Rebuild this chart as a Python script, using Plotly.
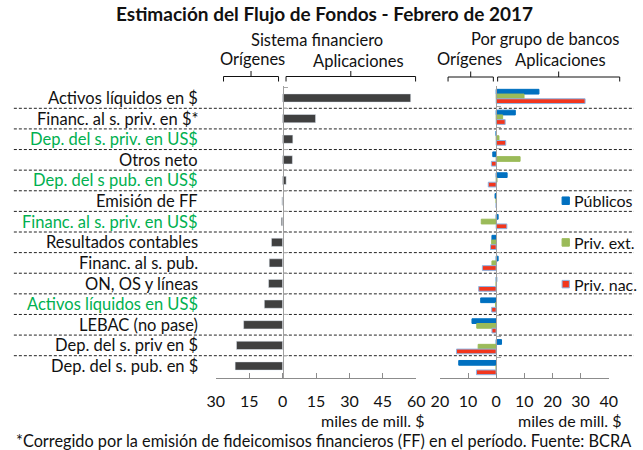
import plotly.graph_objects as go

W, H = 643, 450

categories = [
    "Activos líquidos en $",
    "Financ. al s. priv. en $*",
    "Dep. del s. priv. en US$",
    "Otros neto",
    "Dep. del s pub. en US$",
    "Emisión de FF",
    "Financ. al s. priv. en US$",
    "Resultados contables",
    "Financ. al s. pub.",
    "ON, OS y líneas",
    "Activos líquidos en US$",
    "LEBAC (no pase)",
    "Dep. del s. priv en $",
    "Dep. del s. pub. en $",
]
green_label = [False, False, True, False, True, False, True,
               False, False, False, True, False, False, False]

sistema = [57.5, 14.8, 4.6, 4.4, 1.6, -0.3, -0.6, -5.0, -6.0, -6.3, -8.2, -17.5, -20.7, -21.3]
publicos = [15.2, 6.8, 0.0, -1.2, 3.9, -0.4, 0.7, -1.5, 0.7, 0.2, -5.5, -8.6, 1.9, -13.3]
priv_ext = [9.9, 2.3, 1.0, 8.5, 0.3, 0.0, -5.3, -1.6, -1.5, 0.0, -0.2, -6.9, -6.4, 0.0]
priv_nac = [31.6, 3.2, 3.4, -1.7, -2.8, 0.0, 3.8, -2.0, -4.9, -6.2, -1.6, -1.5, -14.1, -7.0]

series_names = ["Públicos", "Priv. ext.", "Priv. nac."]
series_colors = ["#0070C0", "#9BBB59", "#F2361D"]
series_outline = ["#0070C0", "#9BBB59", "#8EB4E3"]

left_ticks = [-30, -15, 0, 15, 30, 45, 60]
left_ticktext = ["30", "15", "0", "15", "30", "45", "60"]
right_ticks = [-20, -10, 0, 10, 20, 30, 40]
right_ticktext = ["20", "10", "0", "10", "20", "30", "40"]

FONT = "Lato, 'Open Sans', sans-serif"
LABEL_GREEN = "#00B050"
AXIS_GRAY = "#8c8c8c"


def px(x):
    return x / W


def py(y):
    return 1 - y / H


fig = go.Figure()
fig.add_trace(go.Bar(
    y=categories, x=sistema, orientation="h", xaxis="x", yaxis="y",
    marker=dict(color="#404040"), width=0.4, showlegend=False,
))
for name, vals, col, oc in zip(series_names, [publicos, priv_ext, priv_nac],
                               series_colors, series_outline):
    fig.add_trace(go.Bar(
        y=categories, x=vals, orientation="h", xaxis="x2", yaxis="y2", name=name,
        marker=dict(color=col, line=dict(color=oc, width=1)), showlegend=False,
    ))

ydom = [py(378), py(86)]
common_x = dict(showline=True, linecolor=AXIS_GRAY, linewidth=1, ticks="inside",
                ticklen=5, tickcolor=AXIS_GRAY, showgrid=False, zeroline=False,
                tickfont=dict(size=16, color="#111"), ticklabelstandoff=9)
common_y = dict(domain=ydom, type="category", categoryarray=categories,
                categoryorder="array", autorange="reversed", tickson="boundaries",
                ticks="inside", ticklen=4, tickcolor="#aaaaaa", showline=True,
                linecolor="#a0a0a0", linewidth=1, showticklabels=False,
                showgrid=False, zeroline=False, anchor="free")

fig.update_layout(
    width=W, height=H, margin=dict(l=0, r=0, t=0, b=0),
    paper_bgcolor="white", plot_bgcolor="rgba(0,0,0,0)",
    font=dict(family=FONT, size=16, color="#111"),
    barmode="group", bargap=0.32, showlegend=False,
    xaxis=dict(domain=[px(212.7), px(419)], range=[-30, 60], tickvals=left_ticks,
               ticktext=left_ticktext, anchor="y", **common_x),
    xaxis2=dict(domain=[px(443.3), px(617)], range=[-20, 40], tickvals=right_ticks,
                ticktext=right_ticktext, anchor="y2", **common_x),
    yaxis=dict(position=px(281.5), **common_y),
    yaxis2=dict(position=px(501.3), **common_y),
)

shapes = []
# dashed separators between rows
for i in range(len(categories) - 1):
    shapes.append(dict(type="line", xref="paper", yref="y", x0=px(5), x1=1,
                       y0=i + 0.5, y1=i + 0.5,
                       line=dict(color="#222", width=1, dash="3px,2px"), layer="below"))


def bracket(x0, x1, yh, ylow, ytop):
    xc = (x0 + x1) / 2
    path = (f"M {px(x0)},{py(ylow)} L {px(x0)},{py(yh)} L {px(x1)},{py(yh)} "
            f"L {px(x1)},{py(ylow)} M {px(xc)},{py(yh)} L {px(xc)},{py(ytop)}")
    return dict(type="path", xref="paper", yref="paper", path=path,
                line=dict(color="#111", width=1))


shapes += [
    bracket(220.7, 277.3, 76.5, 81.5, 71),
    bracket(285, 418.3, 76.5, 81.5, 71),
    bracket(451.7, 498.3, 77, 81.5, 71.5),
    bracket(502.7, 628.3, 77, 81.5, 71.5),
]

# legend squares positioned at category rows of the right panel
legend_rows = [5, 7, 9]
for r, col, oc in zip(legend_rows, series_colors, series_outline):
    shapes.append(dict(type="rect", xref="paper", yref="y2", x0=px(569), x1=px(576.5),
                       y0=r - 0.18, y1=r + 0.18, fillcolor=col,
                       line=dict(color=oc, width=1)))

annotations = []
for cat, g in zip(categories, green_label):
    annotations.append(dict(text=cat, xref="paper", yref="y", x=px(196), y=cat,
                            xanchor="right", yanchor="middle", showarrow=False,
                            font=dict(size=16.5, color=LABEL_GREEN if g else "#111")))
for r, name in zip(legend_rows, series_names):
    annotations.append(dict(text=name, xref="paper", yref="y2", x=px(579.5),
                            y=categories[r], xanchor="left", yanchor="middle",
                            showarrow=False, font=dict(size=16, color="#111")))


def txt(t, x, y, size=16, bold=False, anchor="center"):
    return dict(text=f"<b>{t}</b>" if bold else t, xref="paper", yref="paper",
                x=px(x), y=py(y), xanchor=anchor, yanchor="middle", showarrow=False,
                font=dict(size=size, color="#111"))


annotations += [
    txt("Estimación del Flujo de Fondos - Febrero de 2017", 325, 14, 19, True),
    txt("Sistema financiero", 316.7, 40, 16.5),
    txt("Por grupo de bancos", 551, 39, 16.5),
    txt("Orígenes", 250, 59, 16.5),
    txt("Aplicaciones", 360, 61, 16.5),
    txt("Orígenes", 473.5, 59, 16.5),
    txt("Aplicaciones", 567, 60, 16.5),
    txt("miles de mill. $", 374, 420, 16),
    txt("miles de mill. $", 577, 420, 16),
    txt("*Corregido por la emisión de fideicomisos financieros (FF) en el período. Fuente: BCRA",
        324, 440, 16.3),
]

fig.update_layout(shapes=shapes, annotations=annotations)
fig.write_html("out.html", config={"displayModeBar": False},
               post_script="document.body.style.margin='0';document.body.style.padding='0';"
                           "window.dispatchEvent(new Event('resize'));")
